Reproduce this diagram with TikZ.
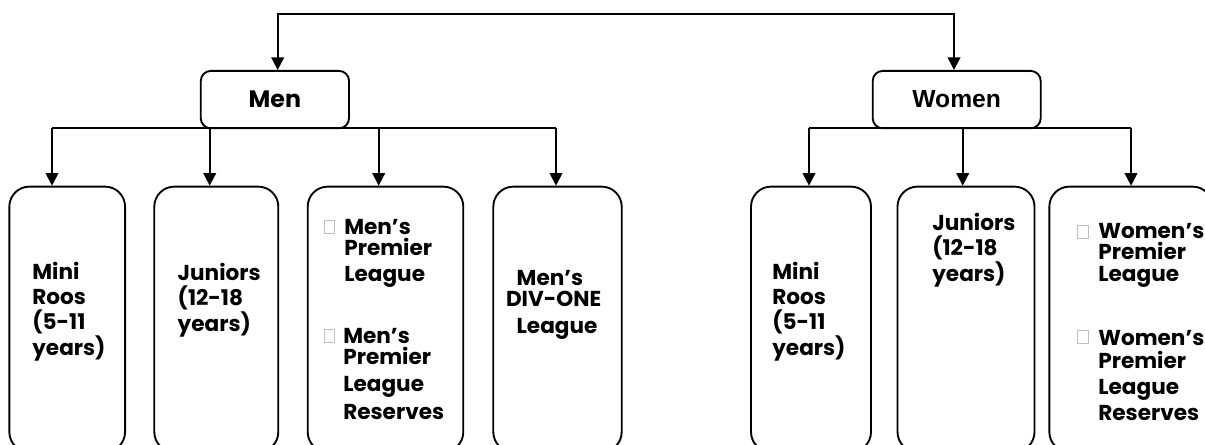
\documentclass[tikz,border=0pt]{standalone}
\usepackage{fontspec}
\setmainfont{Poppins}
\newfontfamily\arialfont{Liberation Sans}
\usetikzlibrary{arrows.meta}
\tikzset{
  conn/.style={line width=1.4pt},
  arr/.style={conn,-{Triangle[length=9.5pt,width=9.5pt]}},
  arrboth/.style={conn,{Triangle[length=9.5pt,width=9.5pt]}-{Triangle[length=9.5pt,width=9.5pt]}},
  topbox/.style={draw,line width=1.4pt,rounded corners=7.5pt,inner sep=0pt,minimum height=43pt},
  kid/.style={draw,line width=1.4pt,rounded corners=15pt,inner sep=0pt,minimum height=199pt},
  lbl/.style={anchor=base west,inner sep=0pt,outer sep=0pt,align=left},
  kidfont/.style={font=\bfseries\fontsize{16.2pt}{18.9pt}\selectfont},
  bul/.style={draw=black!25,line width=0.6pt,inner sep=0pt,minimum width=7.9pt,minimum height=9.75pt}
}
\begin{document}
\begin{tikzpicture}[x=0.75pt,y=-0.75pt]
\clip (0,0) rectangle (1205,445);
\fill[white] (0,0) rectangle (1205,445);

% top level boxes
\node[topbox,minimum width=111.2pt,font=\bfseries\fontsize{17.8pt}{22pt}\selectfont] (men) at (274.9,99.6) {Men};
\node[topbox,minimum width=126pt,font=\arialfont\bfseries\fontsize{18.5pt}{22pt}\selectfont] (women) at (956.7,99.6) {Women};

% top connector
\coordinate (tl) at (277.7,14);
\coordinate (tr) at (954,14);
\draw[arrboth] (tl |- men.north) -- (tl) -- (tr) -- (tr |- women.north);

% child boxes
\node[kid,minimum width=86.8pt] (m1) at (67.2,319.3) {};
\node[kid,minimum width=93pt] (m2) at (216.3,319.3) {};
\node[kid,minimum width=116.7pt] (m3) at (385.5,319.3) {};
\node[kid,minimum width=96.3pt] (m4) at (557.5,319.3) {};
\node[kid,minimum width=90pt] (w1) at (811,319.3) {};
\node[kid,minimum width=102.75pt] (w2) at (966,319.3) {};
\node[kid,minimum width=122.5pt] (w3) at (1131,319.3) {};

% men bus
\coordinate (mb1) at (52,128.3);
\coordinate (mb2) at (209.7,128.3);
\coordinate (mb3) at (378.7,128.3);
\coordinate (mb4) at (556,128.3);
\draw[conn] (mb1) -- (mb4);
\draw[arr] (mb1) -- (mb1 |- m1.north);
\draw[arr] (mb2) -- (mb2 |- m2.north);
\draw[arr] (mb3) -- (mb3 |- m3.north);
\draw[arr] (mb4) -- (mb4 |- m4.north);

% women bus
\coordinate (wb1) at (809,128.3);
\coordinate (wb2) at (962.7,128.3);
\coordinate (wb3) at (1131,128.3);
\draw[conn] (wb1) -- (wb3);
\draw[arr] (wb1) -- (wb1 |- w1.north);
\draw[arr] (wb2) -- (wb2 |- w2.north);
\draw[arr] (wb3) -- (wb3 |- w3.north);

% texts (anchor = baseline of the last line)
\node[lbl,kidfont] (t1) at (32.3,355) {Mini\\Roos\\(5-11\\years)};
\node[lbl,kidfont] (t2) at (177.7,331) {Juniors\\(12-18\\years)};

\node[bul] (b3a) at (329.5,226.5) {};
\node[lbl,font=\bfseries\fontsize{16.2pt}{20pt}\selectfont] (t3a) at (344.3,281.7) {Men’s\\[-4.5pt]Premier\\League};
\node[bul] (b3b) at (329.5,335.8) {};
\node[lbl,font=\bfseries\fontsize{16.2pt}{20.6pt}\selectfont] (t3b) at (343.3,419.3) {Men’s\\[-4.9pt]Premier\\League\\Reserves};

\node[lbl,font=\bfseries\fontsize{16.2pt}{20pt}\selectfont] (t4) at (506,333.3) {\hspace*{8pt}Men’s\\[-4.5pt]DIV-ONE\\\hspace*{8pt}League};

\node[lbl,kidfont] (t5) at (772.3,355) {Mini\\Roos\\(5-11\\years)};
\node[lbl,font=\bfseries\fontsize{16.2pt}{19.1pt}\selectfont] (t6) at (932.3,281) {Juniors\\(12-18\\years)};

\node[bul] (b7a) at (1083,231.7) {};
\node[lbl,font=\bfseries\fontsize{16.2pt}{16.3pt}\selectfont] (t7a) at (1098.3,281.7) {Women’s\\Premier\\League};
\node[bul] (b7b) at (1083,336.7) {};
\node[lbl,font=\bfseries\fontsize{16.2pt}{19.5pt}\selectfont] (t7b) at (1098.3,420) {Women’s\\[-2.5pt]Premier\\League\\Reserves};
\end{tikzpicture}
\end{document}
